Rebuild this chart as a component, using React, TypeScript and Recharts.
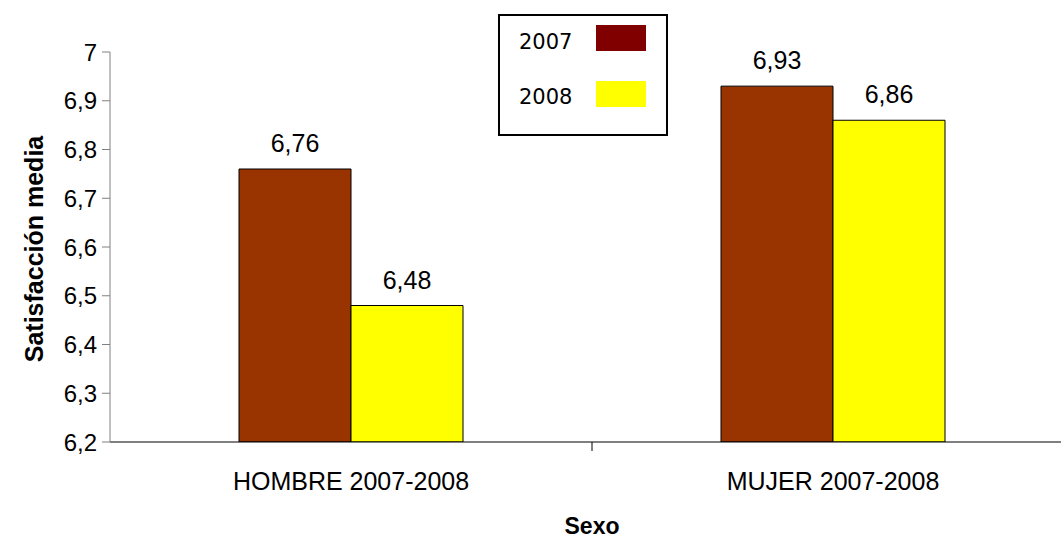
import { FC } from 'react';
import { Bar, BarChart, LabelList, Legend, XAxis, YAxis, Label } from 'recharts';

const categories = ['HOMBRE 2007-2008', 'MUJER 2007-2008'];
const values2007 = [6.76, 6.93];
const values2008 = [6.48, 6.86];
const yTicks = [6.2, 6.3, 6.4, 6.5, 6.6, 6.7, 6.8, 6.9, 7];
const seriesNames = ['2007', '2008'];

const data = categories.map((c, i) => ({
    Sexo: c,
    '2007': values2007[i],
    '2008': values2008[i],
}));

const FONT = '"Liberation Sans", Arial, sans-serif';
const comma = (v: number | string) => String(v).replace('.', ',');

// x tick: label under the bar group + one tick mark on the boundary between groups
const CategoryTick = (props: any) => {
    const { x, y, payload, index } = props;
    const half = payload?.offset ?? 241;
    return (
        <g>
            {index === 0 && (
                <line x1={x + half} x2={x + half} y1={y - 30} y2={y - 21} stroke="#000" />
            )}
            <text x={x} y={y} dy="0.71em" textAnchor="middle" fontSize={25} fontFamily={FONT} fill="#000">
                {payload.value}
            </text>
        </g>
    );
};

// zero-height wrapper so the legend does not take room from the plot
const LegendBox = () => (
    <div style={{ position: 'relative', height: 0 }}>
        <div style={{ position: 'absolute', left: 0, top: 0, width: 170, height: 122, border: '2px solid #000', boxSizing: 'border-box', background: '#fff', fontFamily: '"DejaVu Sans", Verdana, sans-serif', fontSize: 21, color: '#000' }}>
            <span style={{ position: 'absolute', left: 19, top: 14 }}>{seriesNames[0]}</span>
            <div style={{ position: 'absolute', left: 96, top: 9, width: 50, height: 26, background: '#800000' }} />
            <span style={{ position: 'absolute', left: 19, top: 69 }}>{seriesNames[1]}</span>
            <div style={{ position: 'absolute', left: 96, top: 65, width: 50, height: 26, background: '#ffff00' }} />
        </div>
    </div>
);

const App: FC = () => {
    return (
        <div style={{ position: 'absolute', left: 0, top: 0, width: 1061, height: 539, overflow: 'hidden', background: '#fff' }}>
            <BarChart width={1075} height={539} data={data} margin={{ top: 52, right: 1, bottom: 0, left: 0 }} barGap={0} barSize={112}>
                <XAxis dataKey="Sexo" height={97} stroke="#000" tickLine={false} tickSize={8} tickMargin={22} tick={<CategoryTick />}>
                    <Label
                        content={() => (
                            <text x={592} y={534} textAnchor="middle" fontFamily={FONT} fontSize={23} fontWeight="bold" fill="#000">
                                Sexo
                            </text>
                        )}
                    />
                </XAxis>
                <YAxis
                    width={110}
                    domain={[6.2, 7]}
                    ticks={yTicks}
                    interval={0}
                    allowDataOverflow
                    stroke="#808080"
                    tickSize={8}
                    tickMargin={5}
                    tickFormatter={comma}
                    tick={{ fontSize: 24, fontFamily: FONT, fill: '#000' }}
                >
                    <Label
                        content={() => (
                            <text x={43} y={249} transform="rotate(-90, 43, 249)" textAnchor="middle" fontFamily={FONT} fontSize={25} fontWeight="bold" fill="#000">
                                Satisfacción media
                            </text>
                        )}
                    />
                </YAxis>
                <Legend content={<LegendBox />} wrapperStyle={{ position: 'absolute', left: 498, top: 14, width: 170, height: 0 }} />
                <Bar dataKey="2007" fill="#993300" stroke="#000" strokeWidth={1} isAnimationActive={false}>
                    <LabelList dataKey="2007" position="top" offset={17} formatter={comma} style={{ fontFamily: FONT, fontSize: 25, fill: '#000' }} />
                </Bar>
                <Bar dataKey="2008" fill="#ffff00" stroke="#000" strokeWidth={1} isAnimationActive={false}>
                    <LabelList dataKey="2008" position="top" offset={17} formatter={comma} style={{ fontFamily: FONT, fontSize: 25, fill: '#000' }} />
                </Bar>
            </BarChart>
        </div>
    );
};

export default App;
